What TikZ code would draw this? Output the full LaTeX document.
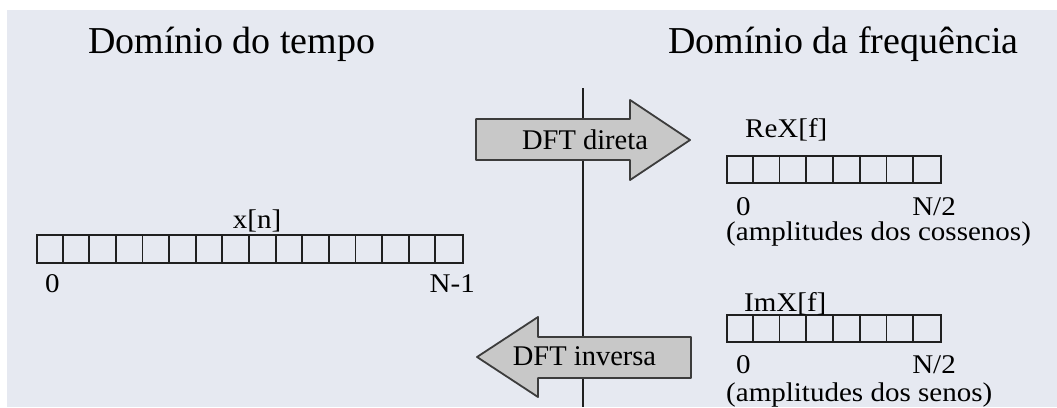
\documentclass[tikz,border=0pt]{standalone}
\usepackage{fontspec}
\setmainfont{Liberation Serif}
\usetikzlibrary{calc}
\definecolor{bgc}{HTML}{E6E9F1}
\definecolor{arrfill}{HTML}{C8C8C8}
\definecolor{arrdraw}{HTML}{3C3C3C}
\definecolor{linec}{HTML}{202020}
\newcommand{\widetxt}[1]{\scalebox{1.075}[1]{#1}}
\tikzset{
  titletxt/.style={inner sep=0pt, font=\fontsize{38}{40}\selectfont, text=black},
  lbltxt/.style={inner sep=0pt, font=\fontsize{27}{29}\selectfont, text=black},
  arrlbltxt/.style={inner sep=0pt, font=\fontsize{28.5}{30}\selectfont, text=black},
  bigarrow/.style={draw=arrdraw, fill=arrfill, line width=1.8pt, line join=round},
  cellbox/.style={draw=linec, line width=1.9pt},
}
\begin{document}
\begin{tikzpicture}[x=1pt,y=-1pt]
\useasboundingbox (0,0) rectangle (1057,407);
\fill[white] (0,0) rectangle (1057,407);
\fill[bgc] (7,10) rectangle (1057,407);
% titles
\node[titletxt, anchor=base west] (t1) at (88,53) {Domínio do tempo};
\node[titletxt, anchor=base west] (t2) at (668,53) {Domínio da frequência};
% vertical divider
\coordinate (vtop) at (583,88);
\coordinate (vbot) at (583,407);
\draw[linec, line width=1.4pt] (vtop) -- (vbot);
% DFT direta arrow
\draw[bigarrow] (476,119) -- (630,119) -- (630,100) -- (690,140) -- (630,180) -- (630,160) -- (476,160) -- cycle;
\node[arrlbltxt, anchor=base] (dftd) at (585,149) {DFT direta};
% DFT inversa arrow
\draw[bigarrow] (691,337) -- (538,337) -- (538,317) -- (477,357) -- (538,397) -- (538,378) -- (691,378) -- cycle;
\node[arrlbltxt, anchor=base] (dfti) at (584.5,365) {DFT inversa};
% x[n] array
\node[cellbox, rectangle, inner sep=0pt, minimum width=426pt, minimum height=28pt, anchor=north west] (xn) at (36,234) {};
\foreach \i in {1,...,15} {\draw[cellbox] ($(xn.north west)+(\i*26.625,0)$) -- ($(xn.south west)+(\i*26.625,0)$);}
\node[lbltxt, anchor=base] (xnl) at (257,228) {\widetxt{x[n]}};
\node[lbltxt, anchor=base west] (x0) at (45,292) {\widetxt{0}};
\node[lbltxt, anchor=base east] (xN) at (475,292) {\widetxt{N-1}};
% ReX array
\node[cellbox, rectangle, inner sep=0pt, minimum width=214pt, minimum height=27pt, anchor=north west] (re) at (726,155) {};
\foreach \i in {1,...,7} {\draw[cellbox] ($(re.north west)+(\i*26.75,0)$) -- ($(re.south west)+(\i*26.75,0)$);}
\node[lbltxt, anchor=base west] (rel) at (745,137) {\widetxt{ReX[f]}};
\node[lbltxt, anchor=base west] (re0) at (736,215) {\widetxt{0}};
\node[lbltxt, anchor=base east] (reN) at (956,215) {\widetxt{N/2}};
\node[lbltxt, anchor=base west] (rec) at (726,240) {\widetxt{(amplitudes dos cossenos)}};
% ImX array
\node[cellbox, rectangle, inner sep=0pt, minimum width=214pt, minimum height=27pt, anchor=north west] (im) at (726,314) {};
\foreach \i in {1,...,7} {\draw[cellbox] ($(im.north west)+(\i*26.75,0)$) -- ($(im.south west)+(\i*26.75,0)$);}
\node[lbltxt, anchor=base west] (iml) at (744,311) {\widetxt{ImX[f]}};
\node[lbltxt, anchor=base west] (im0) at (736,373) {\widetxt{0}};
\node[lbltxt, anchor=base east] (imN) at (956,373) {\widetxt{N/2}};
\node[lbltxt, anchor=base west] (ims) at (726,401) {\widetxt{(amplitudes dos senos)}};
\end{tikzpicture}
\end{document}
